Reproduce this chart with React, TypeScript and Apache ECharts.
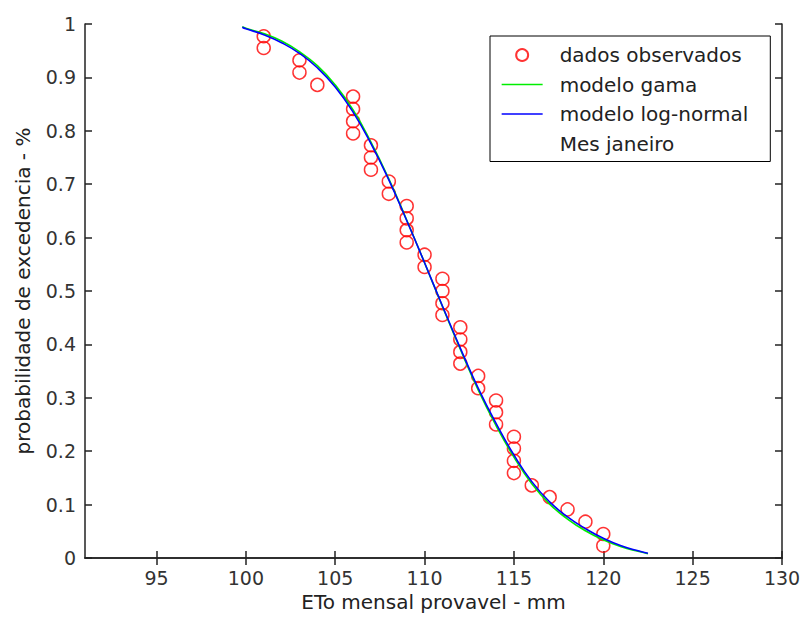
import React, { useEffect, useRef } from "react";
import * as echarts from "echarts";

// Observed data: ETo (mm) and exceedance probability
const obsX = [101, 101, 103, 103, 104, 106, 106, 106, 106, 107, 107, 107, 108, 108, 109, 109, 109, 109, 110, 110, 111, 111, 111, 111, 112, 112, 112, 112, 113, 113, 114, 114, 114, 115, 115, 115, 115, 116, 117, 118, 119, 120, 120];
const obsP = [0.977, 0.955, 0.932, 0.909, 0.886, 0.864, 0.841, 0.818, 0.795, 0.773, 0.75, 0.727, 0.705, 0.682, 0.659, 0.636, 0.614, 0.591, 0.568, 0.545, 0.523, 0.5, 0.477, 0.455, 0.432, 0.409, 0.386, 0.364, 0.341, 0.318, 0.295, 0.273, 0.25, 0.227, 0.205, 0.182, 0.159, 0.136, 0.114, 0.091, 0.068, 0.045, 0.023];

// Model curves
const curveX = [99.8, 100, 101, 102, 103, 104, 105, 106, 107, 108, 109, 110, 111, 112, 113, 114, 115, 116, 117, 118, 119, 120, 121, 122, 122.5];
const gamaP = [0.995, 0.992, 0.982, 0.968, 0.948, 0.922, 0.886, 0.839, 0.779, 0.71, 0.633, 0.553, 0.471, 0.391, 0.315, 0.248, 0.189, 0.139, 0.101, 0.073, 0.051, 0.034, 0.021, 0.012, 0.008];
const lognP = [0.994, 0.991, 0.98, 0.965, 0.945, 0.918, 0.882, 0.835, 0.776, 0.708, 0.632, 0.553, 0.472, 0.393, 0.318, 0.252, 0.193, 0.143, 0.105, 0.077, 0.055, 0.037, 0.023, 0.013, 0.009];

const xTicks = [95, 100, 105, 110, 115, 120, 125, 130];
const xMin = 91;
const xMax = 130;

const FONT = "DejaVu Sans";

export default function App() {
  const ref = useRef<HTMLDivElement>(null);
  useEffect(() => {
    if (!ref.current) return;
    const chart = echarts.init(ref.current, undefined, { renderer: "svg" });
    const axisLine = { show: true, lineStyle: { color: "#222", width: 1.5 } };
    const hiddenDot = { color: "rgba(0,0,0,0)", borderWidth: 0, opacity: 0 };
    const option: any = {
      animation: false,
      backgroundColor: "#fff",
      grid: { left: 85, right: 22, top: 24, bottom: 64, containLabel: false },
      legend: {
        orient: "vertical",
        left: 490,
        top: 36,
        padding: [9, 22, 8, 11],
        borderColor: "#000",
        borderWidth: 1,
        backgroundColor: "#fff",
        itemWidth: 41,
        itemHeight: 12,
        itemGap: 9.5,
        textStyle: { fontFamily: FONT, fontSize: 20, color: "#222", lineHeight: 20, padding: [0, 0, 0, 12] },
        data: [
          { name: "dados observados" },
          { name: "modelo gama", itemStyle: hiddenDot, lineStyle: { width: 1.3 } },
          { name: "modelo log-normal", itemStyle: hiddenDot, lineStyle: { width: 1.3 } },
          { name: "Mes janeiro", icon: "none" },
        ],
      },
      xAxis: [
        {
          type: "value",
          min: xMin,
          max: xMax,
          position: "bottom",
          name: "ETo mensal provavel - mm",
          nameLocation: "middle",
          nameGap: 31,
          nameTextStyle: { fontFamily: FONT, fontSize: 20, color: "#222" },
          axisLine,
          axisTick: { show: true, inside: true, length: 7, customValues: xTicks, lineStyle: { color: "#222", width: 1.5 } },
          axisLabel: { show: true, customValues: xTicks, fontFamily: FONT, fontSize: 19, color: "#333", margin: 10 },
          splitLine: { show: false },
        },
        {
          type: "value",
          min: xMin,
          max: xMax,
          position: "top",
          axisLine,
          axisTick: { show: true, inside: true, length: 7, customValues: xTicks, lineStyle: { color: "#222", width: 1.5 } },
          axisLabel: { show: false },
          splitLine: { show: false },
        },
      ],
      yAxis: [
        {
          type: "value",
          min: 0,
          max: 1,
          interval: 0.1,
          position: "left",
          name: "probabilidade de excedencia - %",
          nameLocation: "middle",
          nameGap: 52,
          nameTextStyle: { fontFamily: FONT, fontSize: 20, color: "#222" },
          axisLine,
          axisTick: { show: true, inside: true, length: 7, lineStyle: { color: "#222", width: 1.5 } },
          axisLabel: { show: true, fontFamily: FONT, fontSize: 19, color: "#333", margin: 9 },
          splitLine: { show: false },
        },
        {
          type: "value",
          min: 0,
          max: 1,
          interval: 0.1,
          position: "right",
          axisLine,
          axisTick: { show: true, inside: true, length: 7, lineStyle: { color: "#222", width: 1.5 } },
          axisLabel: { show: false },
          splitLine: { show: false },
        },
      ],
      series: [
        {
          name: "dados observados",
          type: "scatter",
          xAxisIndex: 0,
          yAxisIndex: 0,
          symbol: "circle",
          symbolSize: 13,
          itemStyle: { color: "rgba(0,0,0,0)", borderColor: "#ff0000", borderWidth: 1.5 },
          data: obsX.map((x, i) => [x, obsP[i]]),
          z: 3,
        },
        {
          name: "modelo gama",
          type: "line",
          xAxisIndex: 0,
          yAxisIndex: 0,
          symbol: "none",
          smooth: true,
          lineStyle: { color: "#00ee00", width: 1.6 },
          itemStyle: { color: "#00ee00" },
          data: curveX.map((x, i) => [x, gamaP[i]]),
          z: 4,
        },
        {
          name: "modelo log-normal",
          type: "line",
          xAxisIndex: 0,
          yAxisIndex: 0,
          symbol: "none",
          smooth: true,
          lineStyle: { color: "#0000ff", width: 1.6 },
          itemStyle: { color: "#0000ff" },
          data: curveX.map((x, i) => [x, lognP[i]]),
          z: 5,
        },
        {
          name: "Mes janeiro",
          type: "line",
          xAxisIndex: 0,
          yAxisIndex: 0,
          symbol: "none",
          lineStyle: { width: 0, color: "rgba(0,0,0,0)" },
          itemStyle: { color: "rgba(0,0,0,0)" },
          data: [],
        },
      ],
    };
    chart.setOption(option);
    return () => chart.dispose();
  }, []);
  return (
    <div
      ref={ref}
      style={{ position: "absolute", left: 0, top: 0, width: 804, height: 622, background: "#fff" }}
    />
  );
}
